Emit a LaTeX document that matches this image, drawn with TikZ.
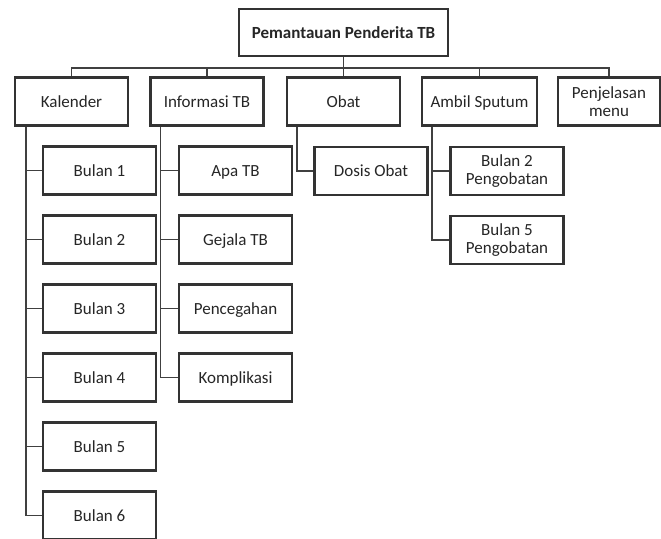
\documentclass[tikz,border=0pt]{standalone}
\usepackage{fontspec}
\setmainfont{Carlito}
\tikzset{
  kotak/.style={draw=black!80, line width=2.2pt, minimum width=113pt, minimum height=48pt,
    text=black!85, align=center, inner sep=2pt, text height=12pt, text depth=1pt,
    font=\fontsize{17}{18}\selectfont},
  duabaris/.style={text height=, text depth=},
  garis/.style={draw=black!75, line width=1.8pt}
}
\begin{document}
\begin{tikzpicture}[x=1pt, y=-1pt]
  \useasboundingbox (0,0) rectangle (661,538);
  % La racine
  \node[kotak, minimum width=209pt, minimum height=47pt, font=\fontsize{17}{18}\selectfont\bfseries] (root) at (343.5,32.5) {Pemantauan Penderita TB};

  % Le premier niveau
  \node[kotak] (kal) at (71.5,101.5) {Kalender};
  \node[kotak] (info) at (207,101.5) {Informasi TB};
  \node[kotak] (obat) at (343.5,101.5) {Obat};
  \node[kotak, minimum width=115pt] (ambil) at (479.5,101.5) {Ambil Sputum};
  \node[kotak, duabaris, minimum width=102pt] (menu) at (609,101.5) {Penjelasan\\menu};

  % Les sous-menus
  \foreach \i in {1,...,6}
    \node[kotak] (bln\i) at (99.5,101.5+69*\i) {Bulan \i};
  \node[kotak] (apa) at (235.5,170.5) {Apa TB};
  \node[kotak] (gejala) at (235.5,239.5) {Gejala TB};
  \node[kotak] (cegah) at (235.5,308.5) {Pencegahan};
  \node[kotak] (komp) at (235.5,377.5) {Komplikasi};
  \node[kotak] (dosis) at (371,171) {Dosis Obat};
  \node[kotak, duabaris] (bln2p) at (507,171) {Bulan 2\\Pengobatan};
  \node[kotak, duabaris] (bln5p) at (507,240) {Bulan 5\\Pengobatan};

  % Les arêtes
  \foreach \n in {kal,info,obat,ambil,menu}
    \draw[garis] (root.south) -- ++(0,11) -| (\n.north);
  \foreach \i in {1,...,6}
    \draw[garis] ([xshift=12pt]kal.south west) |- (bln\i.west);
  \foreach \n in {apa,gejala,cegah,komp}
    \draw[garis] ([xshift=11pt]info.south west) |- (\n.west);
  \draw[garis] ([xshift=11pt]obat.south west) |- (dosis.west);
  \foreach \n in {bln2p,bln5p}
    \draw[garis] ([xshift=11pt]ambil.south west) |- (\n.west);
\end{tikzpicture}
\end{document}
